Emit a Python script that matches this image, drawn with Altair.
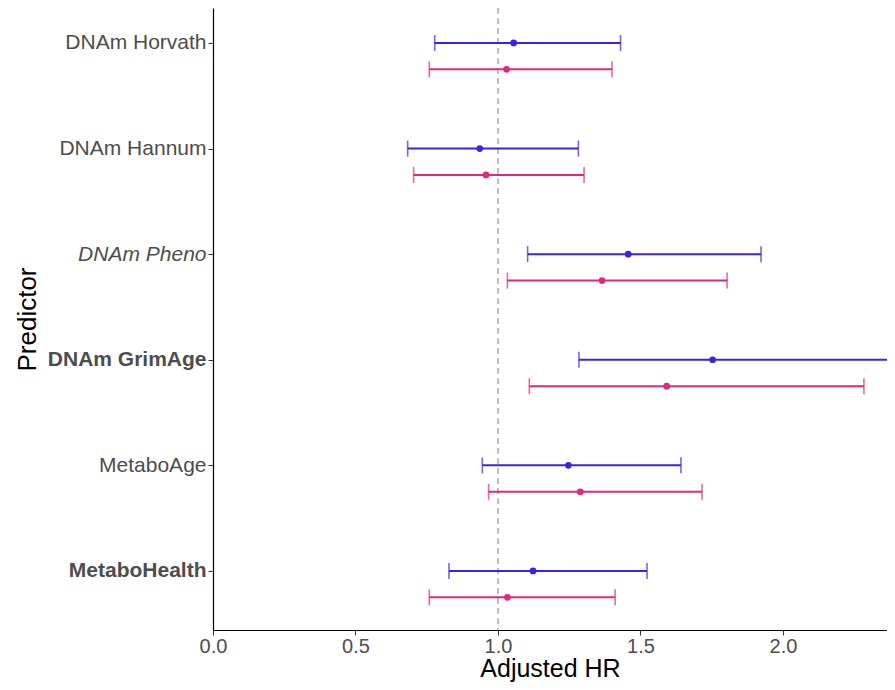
import altair as alt
import pandas as pd

predictors = ["DNAm Horvath", "DNAm Hannum", "DNAm Pheno", "DNAm GrimAge", "MetaboAge", "MetaboHealth"]
positions = [6, 5, 4, 3, 2, 1]
series_names = ["Series A", "Series B"]
series_colors = ["#3a22e6", "#e0287e"]
series_offsets = [0.0, -0.25]

a_hr = [1.055, 0.936, 1.457, 1.753, 1.247, 1.123]
a_lo = [0.778, 0.683, 1.104, 1.284, 0.945, 0.828]
a_hi = [1.430, 1.282, 1.923, 2.410, 1.642, 1.523]

b_hr = [1.030, 0.958, 1.365, 1.592, 1.289, 1.033]
b_lo = [0.759, 0.704, 1.033, 1.110, 0.967, 0.759]
b_hi = [1.400, 1.302, 1.804, 2.284, 1.716, 1.411]

x_ticks = [0.0, 0.5, 1.0, 1.5, 2.0]
ref_value = [1.0]

rows = []
for name, off, hr, lo, hi in [(series_names[0], series_offsets[0], a_hr, a_lo, a_hi),
                              (series_names[1], series_offsets[1], b_hr, b_lo, b_hi)]:
    for p, pos, h, l, u in zip(predictors, positions, hr, lo, hi):
        rows.append({"predictor": p, "series": name, "y": pos + off, "hr": h, "lo": l, "hi": u})
df = pd.DataFrame(rows)

xscale = alt.Scale(domain=[0, 2.365], nice=False, zero=False)
yscale = alt.Scale(domain=[0.441, 6.331], nice=False, zero=False)
cscale = alt.Scale(domain=series_names, range=series_colors)

label_expr = " : ".join(f"datum.value == {pos} ? '{p}'" for p, pos in zip(predictors, positions)) + " : ''"

x_axis = alt.Axis(values=x_ticks, format=".1f", grid=False, domainColor="black", domainWidth=1.2,
                  tickColor="#333333", tickSize=5, labelFontSize=20, labelColor="#4d4d4d",
                  labelFont="Liberation Sans", labelPadding=1, labelFlush=False, title="Adjusted HR",
                  titleFont="Liberation Sans", titleFontSize=25, titleFontWeight="normal",
                  titleColor="black", titleY=46, titleBaseline="alphabetic")
y_axis = alt.Axis(values=positions, labelExpr=label_expr, grid=False, domainColor="black", domainWidth=1.2,
                  tickColor="#333333", tickSize=5, labelFontSize=21, labelColor="#4d4d4d",
                  labelFont="Liberation Sans", labelPadding=2, labelFlush=False,
                  labelFontWeight={"condition": {"test": "datum.value == 3 || datum.value == 1", "value": "bold"}, "value": "normal"},
                  labelFontStyle={"condition": {"test": "datum.value == 4", "value": "italic"}, "value": "normal"},
                  title="Predictor", titleFont="Liberation Sans", titleFontSize=26, titleFontWeight="normal",
                  titleColor="black", titleX=-186, titleY=311, titleAngle=-90, titleAlign="center",
                  titleBaseline="middle")

base = alt.Chart(df)

ref = alt.Chart(pd.DataFrame({"v": ref_value})).mark_rule(color="#8c8c8c", strokeDash=[6, 4], strokeWidth=1.1).encode(
    x=alt.X("v:Q", scale=xscale, axis=x_axis)
)

rules = base.mark_rule(strokeWidth=2, clip=True).encode(
    x=alt.X("lo:Q", scale=xscale, axis=x_axis),
    x2="hi:Q",
    y=alt.Y("y:Q", scale=yscale, axis=y_axis),
    color=alt.Color("series:N", scale=cscale, legend=None),
)
cap_lo = base.mark_tick(orient="vertical", size=16, thickness=1.6, clip=True).encode(
    x=alt.X("lo:Q", scale=xscale),
    y=alt.Y("y:Q", scale=yscale),
    color=alt.Color("series:N", scale=cscale, legend=None),
)
cap_hi = base.mark_tick(orient="vertical", size=16, thickness=1.6, clip=True).encode(
    x=alt.X("hi:Q", scale=xscale),
    y=alt.Y("y:Q", scale=yscale),
    color=alt.Color("series:N", scale=cscale, legend=None),
)
points = base.mark_circle(size=45, opacity=1, clip=True).encode(
    x=alt.X("hr:Q", scale=xscale),
    y=alt.Y("y:Q", scale=yscale),
    color=alt.Color("series:N", scale=cscale, legend=None),
)

chart = alt.layer(ref, rules, cap_lo, cap_hi, points).properties(
    width=674, height=622,
    autosize=alt.AutoSizeParams(type="none"),
    padding={"left": 205, "top": 0, "right": 0, "bottom": 52},
).configure_view(stroke=None)

chart.save("out.html", embed_options={"renderer": "svg", "actions": False})
